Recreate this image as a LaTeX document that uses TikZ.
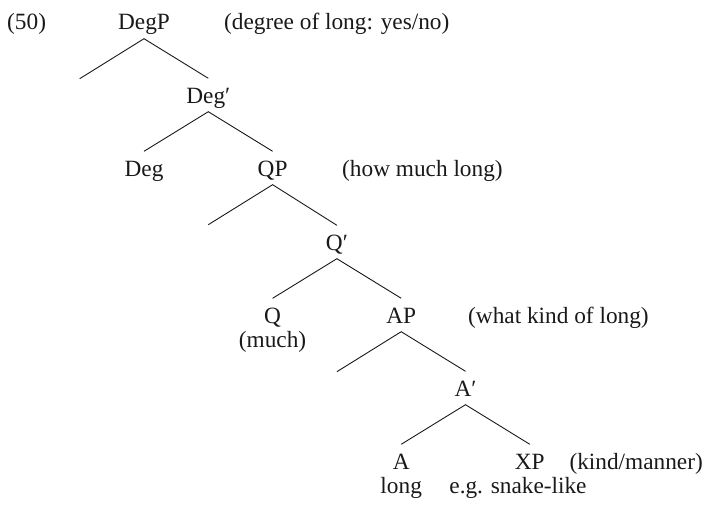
\documentclass[tikz,border=0pt]{standalone}
\usepackage{fontspec}
\setmainfont{Liberation Serif}
\usetikzlibrary{calc}
\begin{document}
\begin{tikzpicture}[x=1pt,y=-1pt,
  every node/.style={font=\fontsize{23.3}{28}\selectfont, text=black!90},
  cat/.style={anchor=base, text height=19.5pt, text depth=3.5pt, inner xsep=0pt, inner ysep=5pt},
  note/.style={anchor=base west, inner sep=0pt},
  gloss/.style={anchor=base, inner sep=0pt},
  branch/.style={line width=0.9pt, black!90}]
\useasboundingbox (0,0) rectangle (705,506);

% category labels of the tree
\node[cat] (degp)   at (144.0,30)  {DegP};
\node[cat] (degbar) at (208.3,103) {Deg′};
\node[cat] (deg)    at (144.0,176) {Deg};
\node[cat] (qp)     at (272.6,176) {QP};
\node[cat] (qbar)   at (336.9,250) {Q′};
\node[cat] (q)      at (272.6,323) {Q};
\node[cat] (ap)     at (401.2,323) {AP};
\node[cat] (abar)   at (465.5,396) {A′};
\node[cat] (a)      at (401.2,469) {A};
\node[cat] (xp)     at (529.8,469) {XP};

% free ends of the empty specifier branches
\coordinate (spec1) at ($(degp.south)+(-64.3,40)$);
\coordinate (spec2) at ($(qp.south)+(-64.3,40)$);
\coordinate (spec3) at ($(ap.south)+(-64.3,40)$);

% branches
\draw[branch] (spec1) -- (degp.south) -- (degbar.north);
\draw[branch] (deg.north) -- (degbar.south) -- (qp.north);
\draw[branch] (spec2) -- (qp.south) -- (qbar.north);
\draw[branch] (q.north) -- (qbar.south) -- (ap.north);
\draw[branch] (spec3) -- (ap.south) -- (abar.north);
\draw[branch] (a.north) -- (abar.south) -- (xp.north);

% example number and annotations
\node[note] (num)   at (7,30)    {(50)};
\node[note] (n1)    at (224,30)  {(degree of long: yes/no)};
\node[note] (n2)    at (342,176) {(how much long)};
\node[note] (n3)    at (468,323) {(what kind of long)};
\node[anchor=base east, inner sep=0pt] (n4) at (703,469) {(kind/manner)};
\node[gloss] (g1)   at (272.6,347) {(much)};
\node[gloss] (g2)   at (401.2,493) {long};
\node[gloss] (g3)   at (518,493)   {e.g. snake-like};
\end{tikzpicture}
\end{document}
